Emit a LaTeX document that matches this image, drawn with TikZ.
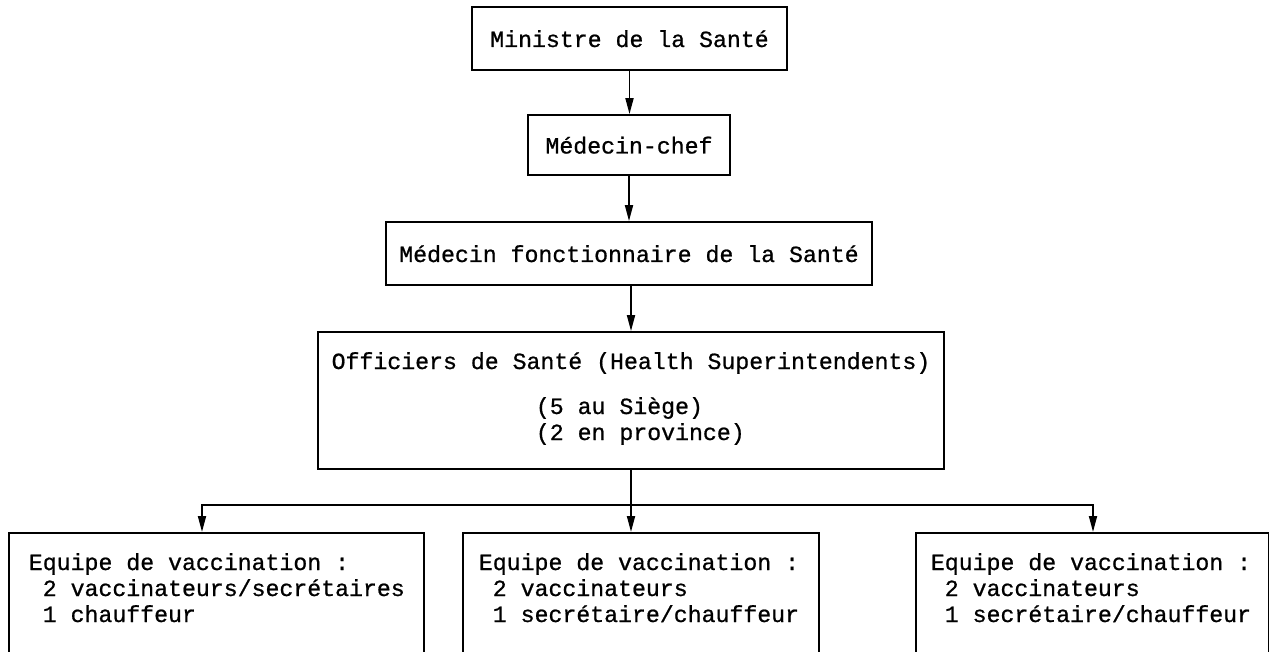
\documentclass[tikz,border=0pt]{standalone}
\usepackage{fontspec}
\newfontfamily\tw{Liberation Mono}[BoldFont={Liberation Mono}, BoldFeatures={FakeBold=0.8}]
\usetikzlibrary{arrows.meta}
\begin{document}
\begin{tikzpicture}[x=1pt,y=-1pt, line width=1.8pt,
  box/.style={draw, rectangle, inner sep=0pt},
  hd/.style={box, font=\tw\bfseries\fontsize{23.2}{26}\selectfont, text height=17pt, text depth=0pt},
  txt/.style={font=\tw\bfseries\fontsize{23.2}{26}\selectfont, inner sep=0pt, anchor=base west},
  arr/.style={-{Triangle[length=16pt,width=8pt]}}]
\useasboundingbox (0,0) rectangle (1269,652);
\clip (0,0) rectangle (1269,652);
% top chain
\node[hd, minimum width=315pt, minimum height=63pt] (b1) at (629.5,38.5) {Ministre de la Santé};
\node[hd, minimum width=202pt, minimum height=60pt] (b2) at (629,145) {Médecin-chef};
\node[hd, minimum width=486pt, minimum height=63pt] (b3) at (629,253.5) {Médecin fonctionnaire de la Santé};
\node[box, minimum width=626pt, minimum height=137pt] (b4) at (631,400.5) {};
\node[txt, anchor=base] (t4a) at (631,369) {Officiers de Santé (Health Superintendents)};
\node[txt] (t4b) at (535,414) {(5 au Siège)};
\node[txt] (t4c) at (535,440) {(2 en province)};
% bottom boxes
\node[box, anchor=north west, minimum width=415pt, minimum height=140pt] (L) at (8,532) {};
\node[box, anchor=north west, minimum width=356pt, minimum height=140pt] (M) at (462,532) {};
\node[box, anchor=north west, minimum width=353pt, minimum height=140pt] (R) at (915,532) {};
\node[txt] (l1) at (28,570) {Equipe de vaccination :};
\node[txt] (l2) at (28,596) {~2 vaccinateurs/secrétaires};
\node[txt] (l3) at (28,622) {~1 chauffeur};
\node[txt] (m1) at (478,570) {Equipe de vaccination :};
\node[txt] (m2) at (478,596) {~2 vaccinateurs};
\node[txt] (m3) at (478,622) {~1 secrétaire/chauffeur};
\node[txt] (r1) at (930,570) {Equipe de vaccination :};
\node[txt] (r2) at (930,596) {~2 vaccinateurs};
\node[txt] (r3) at (930,622) {~1 secrétaire/chauffeur};
% connectors
\coordinate (j) at (631,505);
\coordinate (hL) at (202,505);
\coordinate (hR) at (1093,505);
\draw[arr] (b1.south) -- (b1.south |- b2.north);
\draw[arr] (b2.south) -- (b2.south |- b3.north);
\draw[arr] (b3.south -| b4.north) -- (b4.north);
\draw[arr] (b4.south) -- (j |- M.north);
\draw[arr] (j) -- (hL) -- (hL |- L.north);
\draw[arr] (j) -- (hR) -- (hR |- R.north);
\end{tikzpicture}
\end{document}
